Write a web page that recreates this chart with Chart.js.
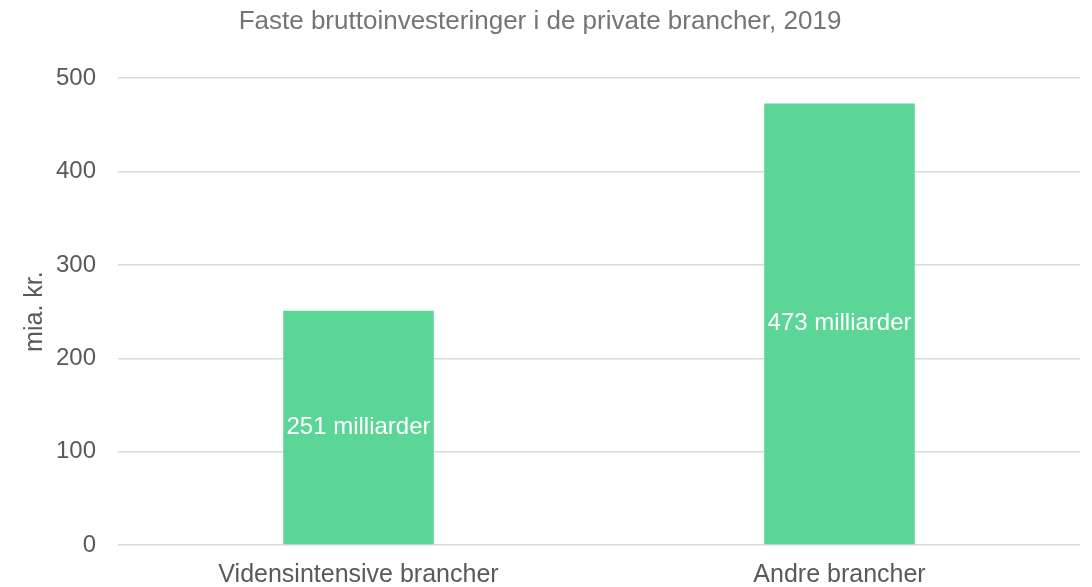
<!DOCTYPE html>
<html>
<head>
<meta charset="utf-8">
<script src="https://cdn.jsdelivr.net/npm/chart.js@4"></script>
<style>
  html, body { margin: 0; padding: 0; background: #fff; }
  #wrap { width: 1092px; height: 587px; }
</style>
</head>
<body>
<div id="wrap"><canvas id="invest-chart"></canvas></div>
<script>
const categories = ['Vidensintensive brancher', 'Andre brancher'];
const investments = [251, 473];
const barLabels = ['251 milliarder', '473 milliarder'];
const yTicks = [0, 100, 200, 300, 400, 500];

const FONT = '"Liberation Sans", Arial, sans-serif';

// white value text centred inside each bar
const barTextPlugin = {
    id: 'barText',
    afterDatasetsDraw(chart) {
        const ctx = chart.ctx;
        const meta = chart.getDatasetMeta(0);
        ctx.save();
        ctx.fillStyle = '#ffffff';
        ctx.font = '24px ' + FONT;
        ctx.textAlign = 'center';
        ctx.textBaseline = 'middle';
        meta.data.forEach((bar, i) => {
            const mid = (bar.y + bar.base) / 2;
            ctx.fillText(barLabels[i], bar.x, mid);
        });
        ctx.restore();
    }
};

const ctx = document.getElementById('invest-chart').getContext('2d');
new Chart(ctx, {
    type: 'bar',
    data: {
        labels: categories,
        datasets: [{
            data: investments,
            backgroundColor: '#5bd697',
            categoryPercentage: 1,
            barPercentage: 0.313
        }]
    },
    options: {
        responsive: true,
        maintainAspectRatio: false,
        animation: false,
        layout: { padding: { top: 6, right: 12, bottom: 0, left: 0 } },
        plugins: {
            legend: { display: false },
            tooltip: { enabled: false },
            title: {
                display: true,
                text: 'Faste bruttoinvesteringer i de private brancher, 2019',
                color: '#757575',
                font: { family: FONT, size: 26, weight: 'normal' },
                padding: { top: 0, bottom: 41 }
            }
        },
        scales: {
            x: {
                grid: { display: false },
                border: { display: false },
                ticks: {
                    color: '#595959',
                    font: { family: FONT, size: 25 },
                    padding: 7
                },
                afterFit(scale) { scale.height = 42; }
            },
            y: {
                min: 0,
                max: 500,
                afterBuildTicks(scale) { scale.ticks = yTicks.map(v => ({ value: v })); },
                grid: { color: '#d9d9d9', lineWidth: 1.5, drawTicks: false },
                border: { display: false },
                ticks: {
                    color: '#595959',
                    font: { family: FONT, size: 24 },
                    padding: 22
                },
                title: {
                    display: true,
                    text: 'mia. kr.',
                    color: '#595959',
                    font: { family: FONT, size: 25 },
                    padding: { top: 20, bottom: 0 }
                },
                afterFit(scale) { scale.width = 118; }
            }
        }
    },
    plugins: [barTextPlugin]
});
</script>
</body>
</html>
